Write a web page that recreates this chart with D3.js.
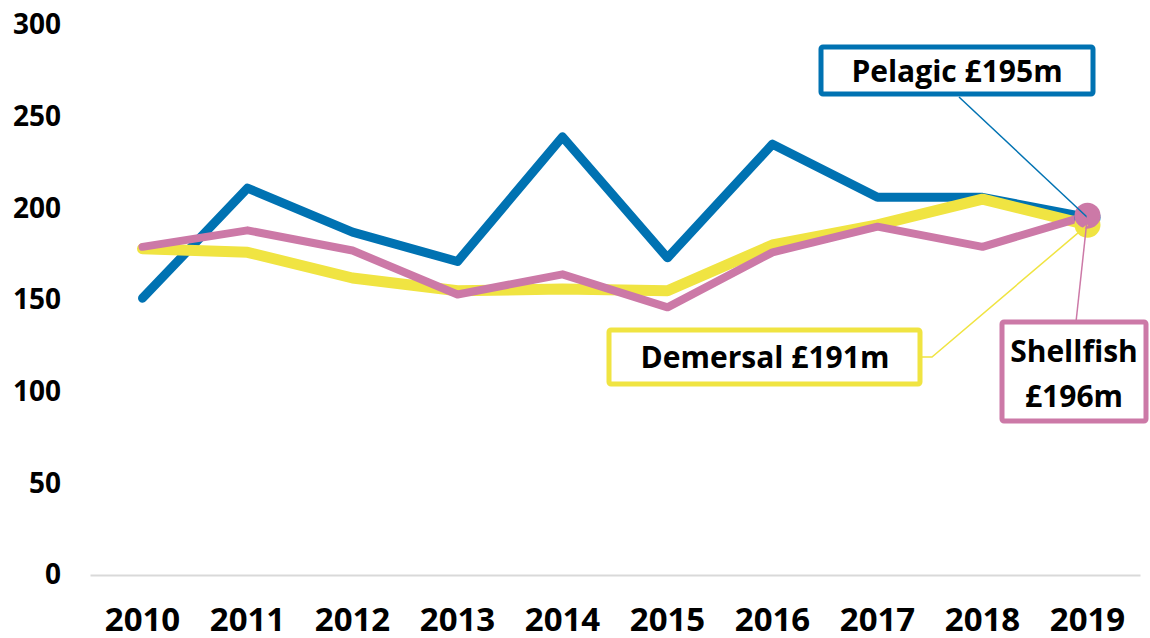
<!DOCTYPE html>
<html>
<head>
<meta charset="utf-8">
<script src="https://cdn.jsdelivr.net/npm/d3@7"></script>
<style>
  body { margin: 0; background: #fff; }
  svg { display: block; font-family: 'Open Sans', sans-serif; font-weight: bold; }
</style>
</head>
<body>
<svg id="chart" width="1150" height="638"></svg>
<script>
const years = ['2010', '2011', '2012', '2013', '2014', '2015', '2016', '2017', '2018', '2019'];
const pelagic = [151, 211, 187, 171, 239, 173, 235, 206, 206, 195];
const demersal = [178, 176, 162, 155, 156, 155, 180, 191, 205, 191];
const shellfish = [179, 188, 177, 153, 164, 146, 176, 190, 179, 196];
const yTicks = [0, 50, 100, 150, 200, 250, 300];

const series = [
  { name: 'Pelagic', values: pelagic, color: '#0072b2', width: 9 },
  { name: 'Demersal', values: demersal, color: '#f0e442', width: 11 },
  { name: 'Shellfish', values: shellfish, color: '#cc79a7', width: 8 }
];

const svg = d3.select('#chart');

const x = d3.scaleBand().domain(years).range([90, 1140]);
const y = d3.scaleLinear().domain([0, 300]).range([575, 25]);
const cx = (yr) => x(yr) + x.bandwidth() / 2;

// x axis
const xAxis = svg.append('g')
  .attr('transform', 'translate(0,575)')
  .call(d3.axisBottom(x).tickSize(0).tickSizeOuter(0));
xAxis.select('.domain').attr('stroke', '#d9d9d9').attr('stroke-width', 2);
xAxis.selectAll('text')
  .attr('dy', 0)
  .attr('y', 56)
  .attr('fill', '#000')
  .attr('font-size', 33)
  .attr('font-family', "'Open Sans', sans-serif")
  .attr('font-weight', 'bold');

// y axis
const yAxis = svg.append('g')
  .attr('transform', 'translate(61,0)')
  .call(d3.axisLeft(y).tickValues(yTicks).tickSize(0).tickPadding(0));
yAxis.select('.domain').remove();
yAxis.selectAll('text')
  .attr('fill', '#000')
  .attr('font-size', 28)
  .attr('font-family', "'Open Sans', sans-serif")
  .attr('font-weight', 'bold');

const line = d3.line()
  .x((d, i) => cx(years[i]))
  .y((d) => y(d));

series.forEach((s) => {
  svg.append('path')
    .datum(s.values)
    .attr('fill', 'none')
    .attr('stroke', s.color)
    .attr('stroke-width', s.width)
    .attr('stroke-linejoin', 'round')
    .attr('stroke-linecap', 'round')
    .attr('d', line);
});

// end markers
const last = years.length - 1;
series.forEach((s) => {
  svg.append('circle')
    .attr('cx', cx(years[last]))
    .attr('cy', y(s.values[last]))
    .attr('r', 13)
    .attr('fill', s.color);
});

// callout labels
const ex = cx(years[last]);

function callout(s, box, anchor, lines, path) {
  svg.append('path')
    .attr('d', d3.line()(path.concat([[ex, y(s.values[last])]])))
    .attr('fill', 'none')
    .attr('stroke', s.color)
    .attr('stroke-width', 1.5);
  svg.append('rect')
    .attr('x', box[0])
    .attr('y', box[1])
    .attr('width', box[2])
    .attr('height', box[3])
    .attr('rx', 2)
    .attr('fill', '#fff')
    .attr('stroke', s.color)
    .attr('stroke-width', 5);
  lines.forEach((t, i) => {
    svg.append('text')
      .attr('x', anchor[0])
      .attr('y', anchor[1] + i * 45)
      .attr('text-anchor', 'middle')
      .attr('font-size', 30)
      .attr('fill', '#000')
      .text(t);
  });
}

callout(series[0], [821, 47, 272, 47], [957, 82], ['Pelagic £' + pelagic[last] + 'm'], [[959, 97]]);
callout(series[1], [609, 330, 311, 54], [765, 368], ['Demersal £' + demersal[last] + 'm'], [[922, 357], [932, 357]]);
callout(series[2], [1002, 322, 144, 99], [1074, 362], ['Shellfish', '£' + shellfish[last] + 'm'], [[1076, 322]]);
</script>
</body>
</html>
